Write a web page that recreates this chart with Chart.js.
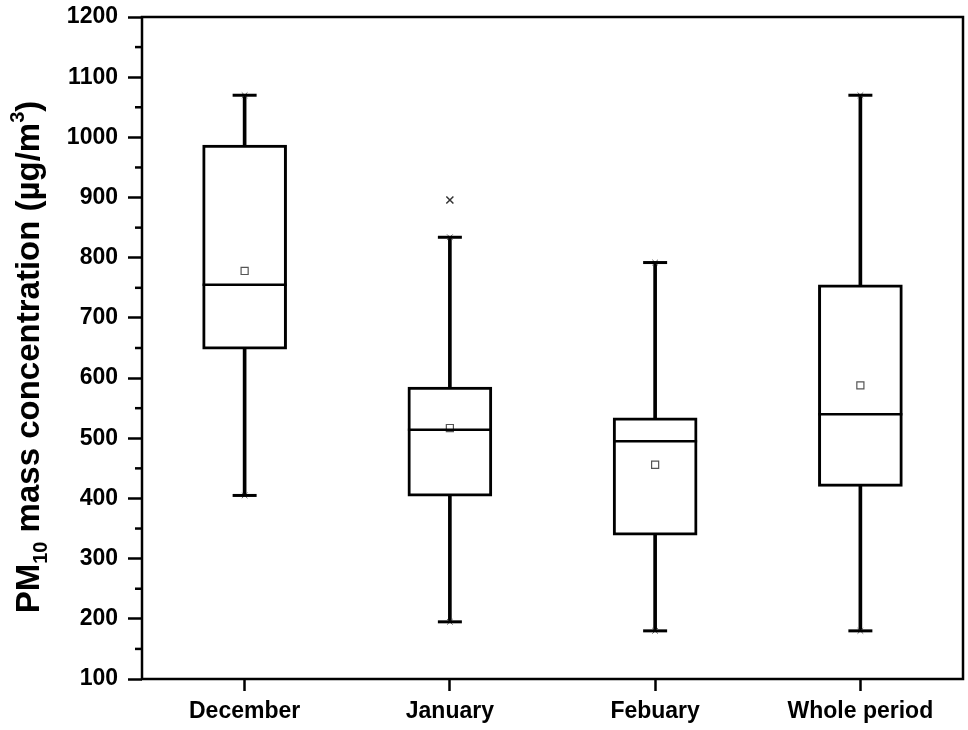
<!DOCTYPE html>
<html><head><meta charset="utf-8">
<script src="https://cdn.jsdelivr.net/npm/chart.js@4"></script>
<style>html,body{margin:0;padding:0;background:#fff}</style>
</head><body>
<canvas id="c" width="968" height="730"></canvas>
<script>
// ---- data ----
const categories = ['December', 'January', 'Febuary', 'Whole period'];
const whiskerMin = [405, 195, 180, 180];
const q1 = [648, 404, 339, 420];
const median = [755, 514, 495, 540];
const q3 = [987, 585, 534, 755];
const whiskerMax = [1070, 834, 792, 1070];
const mean = [778, 517, 456, 588];
const outliers = [null, 896, null, null];
const yTicks = [100, 200, 300, 400, 500, 600, 700, 800, 900, 1000, 1100, 1200];

const FONT = '"Liberation Sans", Arial, Helvetica, sans-serif';

const framePlugin = {
  id: 'frame',
  afterDraw(chart) {
    const { ctx, chartArea: a, scales: { y } } = chart;
    ctx.save();
    ctx.strokeStyle = '#000';
    ctx.lineWidth = 2.5;
    ctx.strokeRect(a.left, a.top, a.right - a.left, a.bottom - a.top);
    // minor ticks
    for (let i = 0; i < yTicks.length - 1; i++) {
      const v = (yTicks[i] + yTicks[i + 1]) / 2;
      const py = y.getPixelForValue(v);
      ctx.beginPath();
      ctx.moveTo(a.left - 7, py);
      ctx.lineTo(a.left, py);
      ctx.stroke();
    }
    // y axis title with subscript / superscript
    const parts = [
      { t: 'PM', size: 33, dy: 0 },
      { t: '10', size: 20, dy: 8 },
      { t: ' mass concentration (\u00b5g/m', size: 33, dy: 0 },
      { t: '3', size: 20, dy: -15 },
      { t: ')', size: 33, dy: 0 }
    ];
    let total = 0;
    parts.forEach(p => { ctx.font = 'bold ' + p.size + 'px ' + FONT; p.w = ctx.measureText(p.t).width; total += p.w; });
    ctx.translate(39, 357);
    ctx.rotate(-Math.PI / 2);
    ctx.fillStyle = '#000';
    ctx.textBaseline = 'alphabetic';
    let x = -total / 2;
    parts.forEach(p => {
      ctx.font = 'bold ' + p.size + 'px ' + FONT;
      ctx.fillText(p.t, x, p.dy);
      x += p.w;
    });
    ctx.restore();
  }
};

const pointDs = (data, style, radius, color, bw, fill) => ({
  type: 'line', data, showLine: false, order: 0,
  pointStyle: style, pointRadius: radius, pointHoverRadius: radius,
  pointBorderColor: color, pointBorderWidth: bw,
  pointBackgroundColor: fill || color, borderColor: color, backgroundColor: fill || color
});

new Chart(document.getElementById('c'), {
  type: 'bar',
  data: {
    labels: categories,
    datasets: [
      { type: 'bar', data: whiskerMin.map((m, i) => [m, whiskerMax[i]]), backgroundColor: '#000',
        borderWidth: 0, barThickness: 3, grouped: false, order: 3 },
      { type: 'bar', data: q1.map((v, i) => [v, q3[i]]), backgroundColor: '#fff', borderColor: '#000',
        borderWidth: 3, borderSkipped: false, barThickness: 84, grouped: false, order: 2 },
      pointDs(median, 'line', 42, '#000', 2.5),
      pointDs(whiskerMax, 'line', 12, '#000', 3),
      pointDs(whiskerMin, 'line', 12, '#000', 3),
      pointDs(whiskerMax, 'crossRot', 4, '#666', 1),
      pointDs(whiskerMin, 'crossRot', 4, '#666', 1),
      pointDs(mean, 'rect', 5, '#555', 1.2, '#fff'),
      pointDs(outliers, 'crossRot', 5, '#333', 1.5)
    ]
  },
  options: {
    responsive: false,
    animation: false,
    layout: { autoPadding: false, padding: { top: 17, right: 5, left: 0, bottom: 0 } },
    plugins: { legend: { display: false }, tooltip: { enabled: false } },
    scales: {
      x: {
        type: 'category', offset: true,
        grid: { offset: false, drawOnChartArea: false, drawTicks: true, tickLength: 12, tickWidth: 2.5, tickColor: '#000' },
        border: { display: false },
        ticks: { color: '#000', padding: 7, font: { family: FONT, size: 23, weight: 'bold' } },
        afterFit(scale) { scale.height = 51; scale.paddingLeft = 0; scale.paddingRight = 0; }
      },
      y: {
        min: 100, max: 1200,
        afterBuildTicks(scale) { scale.ticks = yTicks.map(v => ({ value: v })); },
        grid: { drawOnChartArea: false, drawTicks: true, tickLength: 14, tickWidth: 2.5, tickColor: '#000' },
        border: { display: false },
        ticks: { color: '#000', padding: 10, font: { family: FONT, size: 23, weight: 'bold' },
                 callback: (v) => String(v) },
        afterFit(scale) { scale.width = 142; scale.paddingTop = 0; scale.paddingBottom = 0; }
      }
    }
  },
  plugins: [framePlugin]
});
</script>
</body></html>
